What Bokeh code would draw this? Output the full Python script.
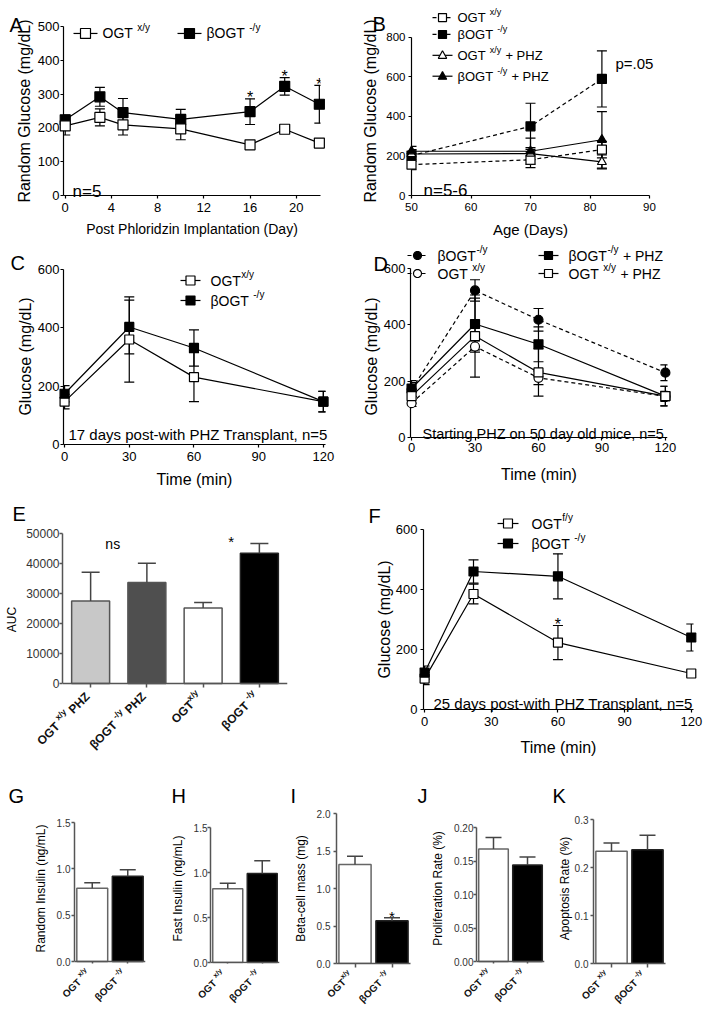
import math
from bokeh.plotting import figure
from bokeh.models import (Range1d, FixedTicker, Whisker, TeeHead, ColumnDataSource,
                          Label, NumeralTickFormatter)
from bokeh.layouts import row, column
from bokeh.embed import file_html
from bokeh.resources import INLINE
from bokeh.core.properties import value

FONT = "Liberation Sans"

# ---------------- data ----------------
# Panel A
a_days = [0, 3, 5, 10, 16, 19, 22]
a_ogt = [206, 231, 209, 197, 150, 196, 155]
a_ogt_err = [27, 25, 30, 32, 6, 8, 12]
a_bogt = [224, 292, 245, 225, 248, 323, 270]
a_bogt_err = [14, 28, 42, 30, 38, 26, 56]
a_star_days = [16, 19, 22]
a_names = ["OGT ^x/y^", "βOGT ^-/y^"]
a_xticks = [0, 4, 8, 12, 16, 20]
a_yticks = [0, 100, 200, 300, 400, 500]

# Panel B
b_age = [50, 70, 82]
b_ogt = [156, 181, 232]
b_ogt_err = [25, 40, 42]
b_bogt = [202, 350, 590]
b_bogt_err = [30, 117, 142]
b_ogt_phz = [210, 212, 170]
b_ogt_phz_err = [20, 30, 35]
b_bogt_phz = [224, 224, 282]
b_bogt_phz_err = [25, 66, 143]
b_names = ["OGT ^x/y^", "βOGT ^-/y^", "OGT ^x/y^ + PHZ", "βOGT ^-/y^ + PHZ"]
b_xticks = [50, 60, 70, 80, 90]
b_yticks = [0, 200, 400, 600, 800]

# Panel C
c_time = [0, 30, 60, 120]
c_ogt = [147, 360, 231, 147]
c_ogt_err = [25, 146, 84, 35]
c_bogt = [174, 403, 331, 147]
c_bogt_err = [28, 92, 62, 35]
c_names = ["OGT^x/y^", "βOGT ^-/y^"]
glu_xticks = [0, 30, 60, 90, 120]
glu_yticks = [0, 200, 400, 600]

# Panel D
d_time = [0, 30, 60, 120]
d_bogt = [170, 522, 418, 230]
d_bogt_err = [25, 38, 40, 28]
d_ogt = [122, 323, 212, 146]
d_ogt_err = [12, 20, 24, 18]
d_bogt_phz = [174, 403, 331, 147]
d_bogt_phz_err = [28, 92, 62, 35]
d_ogt_phz = [147, 360, 231, 147]
d_ogt_phz_err = [25, 146, 84, 35]
d_names = ["βOGT^-/y^", "OGT ^x/y^", "βOGT^-/y^ + PHZ", "OGT ^x/y^ + PHZ"]

# Panel E
e_labels = ["OGT ^x/y^ PHZ", "βOGT ^-/y^ PHZ", "OGT^x/y^", "βOGT ^-/y^"]
e_auc = [27500, 33700, 25200, 43400]
e_err = [9600, 6400, 1800, 3300]
e_colors = ["#c8c8c8", "#4f4f4f", "white", "black"]
e_yticks = [0, 10000, 20000, 30000, 40000, 50000]

# Panel F
f_time = [0, 22, 60, 120]
f_ogt = [103, 385, 223, 120]
f_ogt_err = [20, 33, 57, 8]
f_bogt = [123, 460, 444, 240]
f_bogt_err = [22, 39, 75, 45]
f_names = ["OGT^f/y^", "βOGT ^-/y^"]

# Panels G-K
g_vals = [0.79, 0.92]
g_err = [0.06, 0.07]
h_vals = [0.82, 0.99]
h_err = [0.06, 0.14]
i_vals = [1.32, 0.57]
i_err = [0.11, 0.04]
j_vals = [0.168, 0.144]
j_err = [0.017, 0.012]
k_vals = [0.234, 0.237]
k_err = [0.017, 0.030]
gk_labels = ["OGT ^x/y^", "βOGT ^-/y^"]
i_labels = ["OGT^x/y^", "βOGT ^-/y^"]

# ---------------- helpers ----------------
REG = {' ': 278, '!': 278, '%': 889, '(': 333, ')': 333, '*': 389, '+': 584, ',': 278,
       '-': 333, '.': 278, '/': 278, '=': 584, 'A': 667, 'B': 667, 'C': 722, 'D': 722,
       'E': 667, 'F': 611, 'G': 778, 'H': 722, 'I': 278, 'J': 500, 'K': 667, 'L': 556,
       'M': 833, 'N': 722, 'O': 778, 'P': 667, 'R': 722, 'S': 667, 'T': 611, 'Z': 611,
       'a': 556, 'b': 556, 'c': 500, 'd': 556, 'e': 556, 'f': 278, 'g': 556, 'h': 556,
       'i': 222, 'l': 222, 'm': 833, 'n': 556, 'o': 556, 'p': 556, 'r': 333, 's': 500,
       't': 278, 'u': 556, 'w': 722, 'x': 500, 'y': 500, 'z': 500, 'β': 576}
BOLD = {' ': 278, '-': 333, '/': 278, 'x': 556, 'y': 556, 'f': 333, 'O': 778, 'G': 778,
        'T': 611, 'P': 667, 'H': 722, 'Z': 611, 'β': 611}
C45 = math.cos(math.pi / 4)
MAP = {}


def tw(s, size, bold=False):
    tab = BOLD if bold else REG
    return sum(tab.get(ch, REG.get(ch, 556)) for ch in s) * size / 1000.0


def make_fig(fig_box, fl, fr, T, B, xr, y0, y1, t, b):
    """frame spans fl..fr and T..B (row-aligned); value axis y0..y1 maps onto pixels b..t."""
    fx0, fy0, fx1, fy1 = fig_box
    s = (b - t) / (y1 - y0)
    yr = (y0 - (B - b) / s, y1 + (t - T) / s)
    p = figure(width=fx1 - fx0, height=fy1 - fy0, x_range=Range1d(*xr), y_range=Range1d(*yr),
               output_backend="svg", toolbar_location=None, title=None,
               min_border_left=fl - fx0, min_border_right=fx1 - fr,
               min_border_top=T - fy0, min_border_bottom=fy1 - B)
    p.outline_line_color = None
    p.xgrid.visible = False
    p.ygrid.visible = False
    p.background_fill_color = "white"
    p.border_fill_color = "white"
    p.yaxis[0].bounds = (y0, y1)
    if B - b > 0.5:
        p.xaxis[0].fixed_location = y0
    MAP[id(p)] = ((fl, T, fr, B), xr, yr)
    return p


def to_data(p, px, py):
    (fl, ft, fr, fb), (x0, x1), (y0, y1) = MAP[id(p)]
    return (x0 + (px - fl) * (x1 - x0) / (fr - fl), y0 + (fb - py) * (y1 - y0) / (fb - ft))


def to_px(p, x):
    (fl, ft, fr, fb), (x0, x1), _ = MAP[id(p)]
    return fl + (x - x0) * (fr - fl) / (x1 - x0)


def ptext(p, px, py, text, size, align="left", baseline="alphabetic", angle=0.0,
          bold=False, color="black"):
    x, y = to_data(p, px, py)
    p.text(x=[x], y=[y], text=[text], angle=angle, text_font=value(FONT),
           text_font_size=value(f"{size}px"), text_align=align, text_baseline=baseline,
           text_font_style="bold" if bold else "normal", text_color=color, level="overlay")


def style_axis(ax, ticks, tick_font, tick_out, standoff, title, title_font, title_standoff,
               color="black", lw=1.2, text_color="black", formatter=None):
    ax.ticker = FixedTicker(ticks=ticks)
    ax.axis_line_color = color
    ax.axis_line_width = lw
    ax.major_tick_line_color = color
    ax.major_tick_line_width = lw
    ax.major_tick_out = tick_out
    ax.major_tick_in = 0
    ax.minor_tick_line_color = None
    ax.major_label_text_font = FONT
    ax.major_label_text_font_size = f"{tick_font}px"
    ax.major_label_text_color = text_color
    ax.major_label_standoff = standoff
    if title:
        ax.axis_label = title
        ax.axis_label_text_font = FONT
        ax.axis_label_text_font_size = f"{title_font}px"
        ax.axis_label_text_font_style = "normal"
        ax.axis_label_text_color = "black"
        ax.axis_label_standoff = title_standoff
    if formatter is not None:
        ax.formatter = formatter


def series(p, x, y, err, marker, fill, dash, size, cap=10):
    p.line(x, y, line_color="black", line_width=1.2, line_dash=dash)
    src = ColumnDataSource(dict(x=x, lo=[a - b for a, b in zip(y, err)],
                                hi=[a + b for a, b in zip(y, err)]))
    w = Whisker(source=src, base="x", lower="lo", upper="hi", dimension="height",
                line_color="black", line_width=1.2, level="annotation",
                upper_head=TeeHead(size=cap, line_color="black", line_width=1.2),
                lower_head=TeeHead(size=cap, line_color="black", line_width=1.2))
    p.add_layout(w)
    p.scatter(x, y, marker=marker, size=size, fill_color=fill, line_color="black",
              line_width=1.2, level="overlay")


def bars(p, vals, err, colors, width, cap, line_colors):
    xs = list(range(len(vals)))
    p.vbar(x=xs, top=vals, bottom=0, width=width, fill_color=colors,
           line_color=line_colors, line_width=1.5)
    src = ColumnDataSource(dict(x=xs, lo=vals, hi=[v + e for v, e in zip(vals, err)]))
    w = Whisker(source=src, base="x", lower="lo", upper="hi", dimension="height",
                line_color="#444444", line_width=1.5, level="annotation",
                upper_head=TeeHead(size=cap, line_color="#444444", line_width=1.5),
                lower_head=None)
    p.add_layout(w)


def marker_patch(p, px, py, marker, size, fill):
    r = size / 2.0
    if marker == "square":
        pts = [(px - r, py - r), (px + r, py - r), (px + r, py + r), (px - r, py + r)]
    elif marker == "triangle":
        pts = [(px, py - r * 1.15), (px + r * 1.05, py + r * 0.75), (px - r * 1.05, py + r * 0.75)]
    else:
        pts = [(px + r * math.cos(2 * math.pi * k / 28), py + r * math.sin(2 * math.pi * k / 28))
               for k in range(28)]
    conv = [to_data(p, a, b) for a, b in pts]
    p.patch([c[0] for c in conv], [c[1] for c in conv], fill_color=fill, line_color="black",
            line_width=1.2, level="overlay")


def legend_entry(p, label, gx, cy, size, sup_size, gw, standoff, marker, fill, dash, msize=9):
    x0, y = to_data(p, gx, cy)
    x1, _ = to_data(p, gx + gw, cy)
    p.line([x0, x1], [y, y], line_color="black", line_width=1.2, line_dash=dash, level="overlay")
    marker_patch(p, gx + gw / 2.0, cy, marker, msize, fill)
    x = gx + gw + standoff
    for i, part in enumerate(label.split("^")):
        sup = (i % 2 == 1)
        s = sup_size if sup else size
        lead = len(part) - len(part.lstrip())
        trail = len(part) - len(part.rstrip())
        txt = part.strip()
        x += lead * tw(" ", size)
        if txt:
            ptext(p, x, cy - (0.4 * size if sup else 0), txt, s, "left", "middle")
            x += tw(txt, s) + 0.5
        x += trail * tw(" ", size)


def rot_tick_label(p, k, axis_py, label, size, sup_size, dx, dy, color):
    xc = to_px(p, k)
    parts = label.split("^")
    items = [(part, i % 2 == 1) for i, part in enumerate(parts)]
    c = 0.0
    for text, sup in reversed(items):
        s = sup_size if sup else size
        trail = len(text) - len(text.rstrip())
        lead = len(text) - len(text.lstrip())
        t = text.strip()
        c += trail * tw(" ", size, True)
        if t:
            r = 0.42 * size if sup else 0.0
            px = xc + dx - c * C45 - r * C45
            py = axis_py + dy + c * C45 - r * C45
            ptext(p, px, py, t, s, "right", "alphabetic", angle=math.pi / 4, bold=True,
                  color=color)
            c += tw(t, s, True)
        c += lead * tw(" ", size, True)


def star(p, x, y, dy=1, size=16):
    p.add_layout(Label(x=x, y=y, x_units="data", y_units="data", y_offset=dy, text="*",
                       text_align="center", text_baseline="alphabetic", text_font=FONT,
                       text_font_size=f"{size}px", text_color="black"))


# ---------------- Row 1: A, B ----------------
T1, B1 = 26, 196
pA = make_fig((0, 0, 355, 240), 63, 320, T1, B1, (-0.15, 22.1), 0, 500, 26, 196)
style_axis(pA.xaxis[0], a_xticks, 13, 3, 4, "Post Phloridzin Implantation (Day)", 14, 6)
style_axis(pA.yaxis[0], a_yticks, 13, 3, 1, "Random Glucose (mg/dL)", 16, 2)
series(pA, a_days, a_bogt, a_bogt_err, "square", "black", "solid", 10)
series(pA, a_days, a_ogt, a_ogt_err, "square", "white", "solid", 10)
legend_entry(pA, a_names[0], 73, 33, 14, 10, 24, 5, "square", "white", "solid", 10)
legend_entry(pA, a_names[1], 177, 33, 14, 10, 24, 5, "square", "black", "solid", 10)
for d in a_star_days:
    i = a_days.index(d)
    star(pA, d, a_bogt[i] + a_bogt_err[i])
ptext(pA, 9, 24, "A", 20)
ptext(pA, 72, 192, "n=5", 17)

pB = make_fig((355, 0, 711, 240), 411, 649, T1, B1, (50, 90), 0, 800, 37, 196)
style_axis(pB.xaxis[0], b_xticks, 11.5, 3, 4, "Age (Days)", 15, 7)
style_axis(pB.yaxis[0], b_yticks, 11.5, 3, 3, "Random Glucose (mg/dL)", 16, 4)
series(pB, b_age, b_ogt, b_ogt_err, "square", "white", "4 3", 9)
series(pB, b_age, b_bogt, b_bogt_err, "square", "black", "4 3", 9)
series(pB, b_age, b_ogt_phz, b_ogt_phz_err, "triangle", "white", "solid", 9)
series(pB, b_age, b_bogt_phz, b_bogt_phz_err, "triangle", "black", "solid", 9)
b_styles = [("square", "white", "4 3"), ("square", "black", "4 3"),
            ("triangle", "white", "solid"), ("triangle", "black", "solid")]
for nm, cy, st in zip(b_names, [17, 34, 55, 76], b_styles):
    legend_entry(pB, nm, 432, cy, 13, 9, 20, 5, st[0], st[1], st[2], 8)
ptext(pB, 372, 23, "B", 20)
ptext(pB, 423, 191, "n=5-6", 17)
ptext(pB, 615, 63, "p=.05", 15)

# ---------------- Row 2: C, D ----------------
T2, B2 = 268, 444
pC = make_fig((0, 240, 355, 490), 63, 325, T2, B2, (-0.5, 121), 0, 600, 269, 444)
style_axis(pC.xaxis[0], glu_xticks, 13, 3, 4, "Time (min)", 16, 7)
style_axis(pC.yaxis[0], glu_yticks, 13, 3, 1, "Glucose (mg/dL)", 16, 1)
series(pC, c_time, c_ogt, c_ogt_err, "square", "white", "solid", 9)
series(pC, c_time, c_bogt, c_bogt_err, "square", "black", "solid", 9)
legend_entry(pC, c_names[0], 180, 280, 14, 10, 20, 10, "square", "white", "solid")
legend_entry(pC, c_names[1], 180, 300, 14, 10, 20, 10, "square", "black", "solid")
ptext(pC, 10, 262, "C", 20)
ptext(pC, 68, 434, "17 days post-with PHZ Transplant, n=5", 15)

D_AXIS_Y = 437
pD = make_fig((355, 240, 711, 490), 410, 667, T2, B2, (-0.5, 121), 0, 600, 268, D_AXIS_Y)
style_axis(pD.xaxis[0], glu_xticks, 13, 3, 1, None, 16, 0)
pD.xaxis[0].major_label_overrides = {k: "" for k in glu_xticks}
style_axis(pD.yaxis[0], glu_yticks, 13, 3, 2, "Glucose (mg/dL)", 16, 1)
for tk in glu_xticks:
    ptext(pD, to_px(pD, tk), D_AXIS_Y + 10, str(tk), 13, "center", "middle")
ptext(pD, 538.5, D_AXIS_Y + 37, "Time (min)", 16, "center", "middle")
series(pD, d_time, d_bogt, d_bogt_err, "circle", "black", "4 3", 9)
series(pD, d_time, d_ogt, d_ogt_err, "circle", "white", "4 3", 9)
series(pD, d_time, d_bogt_phz, d_bogt_phz_err, "square", "black", "solid", 9)
series(pD, d_time, d_ogt_phz, d_ogt_phz_err, "square", "white", "solid", 9)
legend_entry(pD, d_names[0], 407, 255, 14, 10, 20, 10, "circle", "black", "4 3", 8)
legend_entry(pD, d_names[1], 407, 273, 14, 10, 20, 10, "circle", "white", "4 3", 8)
legend_entry(pD, d_names[2], 538, 255, 14, 10, 20, 10, "square", "black", "solid", 8)
legend_entry(pD, d_names[3], 538, 273, 14, 10, 20, 10, "square", "white", "solid", 8)
ptext(pD, 373, 263, "D", 20)
ptext(pD, 422, 433, "Starting PHZ on 50 day old mice, n=5", 14.5)

# ---------------- Row 3: E, F ----------------
T3, B3 = 529, 709
pE = make_fig((0, 490, 355, 760), 62, 287, T3, B3, (-0.5, len(e_auc) - 0.5), 0, 50000, 533, 683)
style_axis(pE.xaxis[0], list(range(len(e_auc))), 10, 4, 0, None, 0, 0, color="#555555", lw=1.5)
pE.xaxis[0].major_label_overrides = {k: "" for k in range(len(e_auc))}
style_axis(pE.yaxis[0], e_yticks, 12, 3, 0, "AUC", 12, 4, color="#555555", lw=1.5,
           text_color="#333333", formatter=NumeralTickFormatter(format="0"))
bars(pE, e_auc, e_err, e_colors, 0.675, 18, ["#555555", "#555555", "#555555", "#222222"])
for k, lab in enumerate(e_labels):
    rot_tick_label(pE, k, 683, lab, 12, 8.5, -3, 11, "#111111")
ptext(pE, to_px(pE, 0.5) - 6, 543, "ns", 14, "center", "middle")
ptext(pE, to_px(pE, 2.5), 541, "*", 15, "center", "alphabetic")
ptext(pE, 12, 513, "E", 20)

pF = make_fig((355, 490, 711, 760), 423, 693, T3, B3, (-0.5, 121), 0, 600, 529, 709)
style_axis(pF.xaxis[0], glu_xticks, 13, 3, 4, "Time (min)", 16, 10)
style_axis(pF.yaxis[0], glu_yticks, 13, 3, 3, "Glucose (mg/dL)", 16, 0)
series(pF, f_time, f_ogt, f_ogt_err, "square", "white", "solid", 9)
series(pF, f_time, f_bogt, f_bogt_err, "square", "black", "solid", 9)
legend_entry(pF, f_names[0], 497, 523, 14, 10, 21, 13, "square", "white", "solid")
legend_entry(pF, f_names[1], 497, 543, 14, 10, 21, 13, "square", "black", "solid")
star(pF, f_time[2], f_ogt[2] + f_ogt_err[2])
ptext(pF, 368, 515, "F", 20)
ptext(pF, 433, 703, "25 days post-with PHZ Transplant, n=5", 15)

# ---------------- Row 4: G-K ----------------
T4, B4 = 813, 963


def bar_panel(fig_box, fl, fr, t, b, vals, err, ymax, yticks, fmt, ylabel, labels, ch, chx,
              standoff, title_standoff):
    p = make_fig(fig_box, fl, fr, T4, B4, (-0.5, len(vals) - 0.5), 0, ymax, t, b)
    style_axis(p.xaxis[0], list(range(len(vals))), 10, 4, 0, None, 0, 0, color="#555555", lw=1.5)
    p.xaxis[0].major_label_overrides = {k: "" for k in range(len(vals))}
    style_axis(p.yaxis[0], yticks, 10, 3, standoff, ylabel, 12, title_standoff,
               color="#555555", lw=1.5, text_color="#333333",
               formatter=NumeralTickFormatter(format=fmt))
    bars(p, vals, err, ["white", "black"], 0.87, 16, ["#666666", "#222222"])
    for k, lab in enumerate(labels):
        rot_tick_label(p, k, b, lab, 10, 7, -4, 10, "#111111")
    ptext(p, chx, 795, ch, 20)
    return p


pG = bar_panel((0, 760, 165, 1012), 74, 145, 822, 961, g_vals, g_err, 1.5,
               [0, 0.5, 1.0, 1.5], "0.0", "Random Insulin (ng/mL)", gk_labels, "G", 8, 1, 6)
pH = bar_panel((165, 760, 288, 1012), 210, 279, 827, 962, h_vals, h_err, 1.5,
               [0, 0.5, 1.0, 1.5], "0.0", "Fast Insulin (ng/mL)", gk_labels, "H", 171, 0, 6)
pI = bar_panel((288, 760, 415, 1012), 336, 410, 813, 963, i_vals, i_err, 2.0,
               [0, 0.5, 1.0, 1.5, 2.0], "0.0", "Beta-cell mass (mg)", i_labels, "I", 290, 3, 6)
star(pI, 1, i_vals[1] + i_err[1], dy=1, size=15)
pJ = bar_panel((415, 760, 553, 1012), 476, 544, 827, 961, j_vals, j_err, 0.2,
               [0, 0.05, 0.10, 0.15, 0.20], "0.00", "Proliferation Rate (%)", gk_labels, "J",
               417, 0, 6)
pK = bar_panel((553, 760, 711, 1012), 593, 665, 819, 963, k_vals, k_err, 0.3,
               [0, 0.1, 0.2, 0.3], "0.0", "Apoptosis Rate (%)", gk_labels, "K", 552, 2, 0)

layout = column(row(pA, pB), row(pC, pD), row(pE, pF), row(pG, pH, pI, pJ, pK))
open("out.html", "w").write(file_html(layout, INLINE))
